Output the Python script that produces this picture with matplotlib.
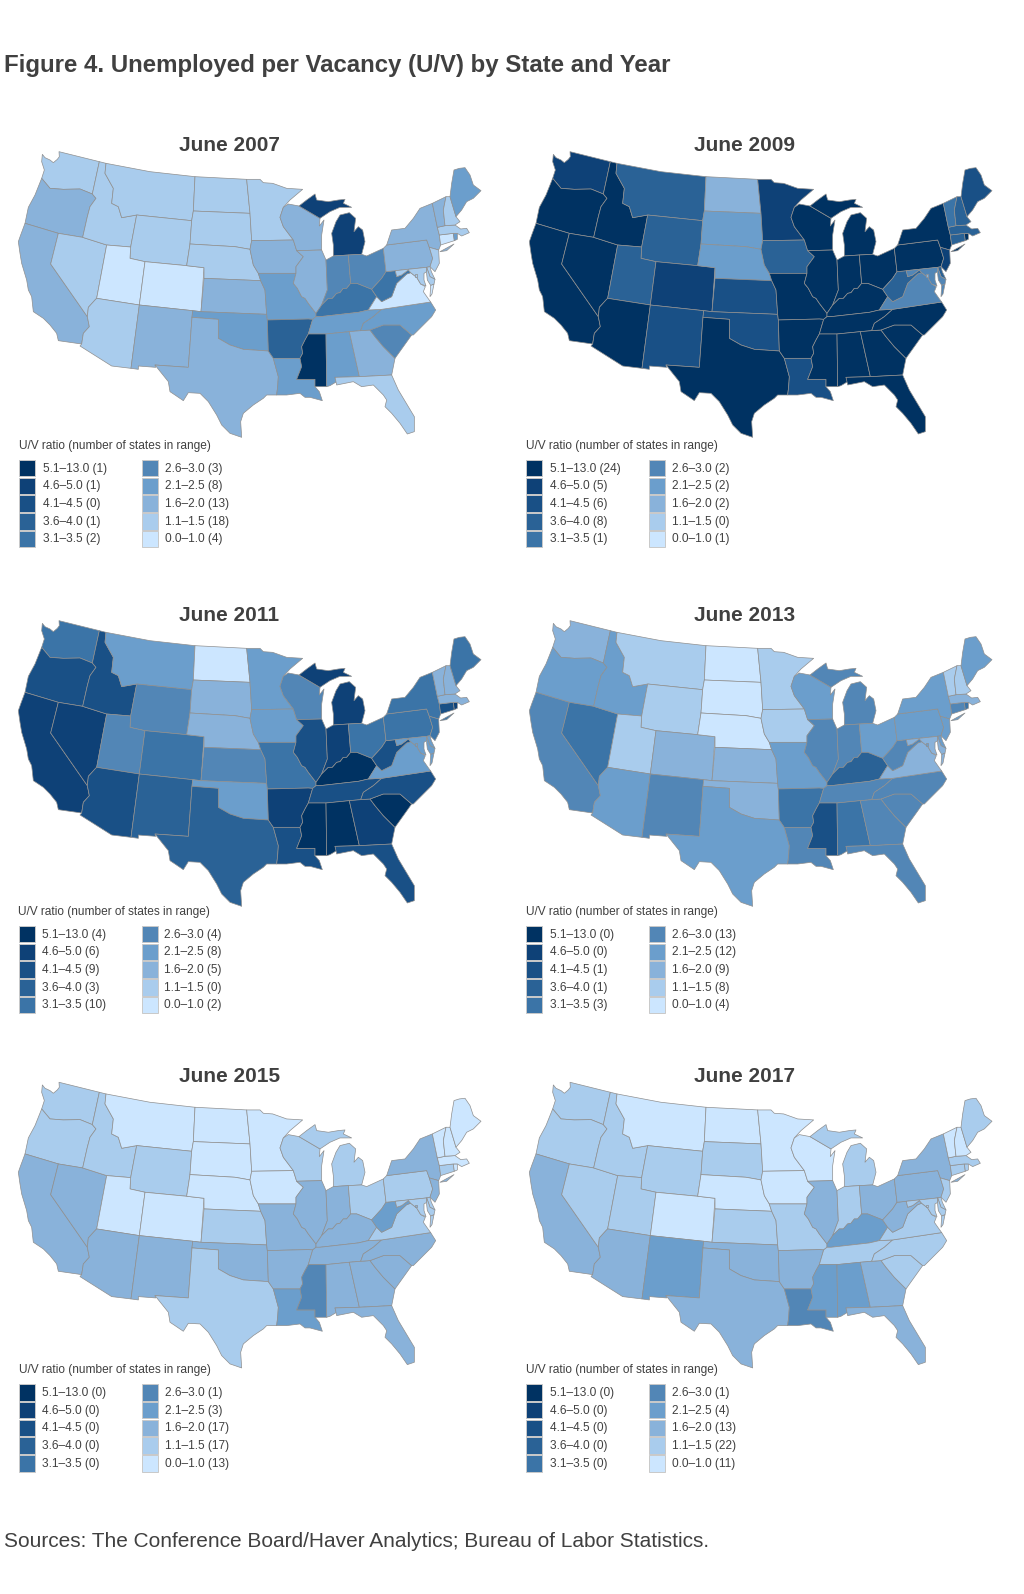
import matplotlib
matplotlib.use("Agg")
import matplotlib.pyplot as plt
from matplotlib.collections import PolyCollection
from matplotlib.colors import ListedColormap, BoundaryNorm
from matplotlib.patches import Rectangle

plt.rcParams['font.family'] = ['Liberation Sans', 'DejaVu Sans']

# ---------- data ----------
range_labels = ["0.0–1.0", "1.1–1.5", "1.6–2.0", "2.1–2.5", "2.6–3.0",
                "3.1–3.5", "3.6–4.0", "4.1–4.5", "4.6–5.0", "5.1–13.0"]
bin_edges = [0, 1.05, 1.55, 2.05, 2.55, 3.05, 3.55, 4.05, 4.55, 5.05, 13.0]
bin_colors = ["#cce6ff", "#a9cced", "#89b2da", "#6b9ecc", "#5286b6",
              "#3b74a7", "#2a6296", "#195086", "#0e4177", "#003262"]

states = ["WA","OR","CA","NV","ID","MT","WY","UT","CO","AZ","NM","ND","SD","NE","KS","OK","TX",
          "MN","IA","MO","AR","LA","WI","IL","MI","IN","OH","KY","TN","MS","AL","GA","FL","SC",
          "NC","VA","WV","PA","NY","NJ","DE","MD","DC","CT","RI","MA","VT","NH","ME"]

# U/V ratio per state, read as the middle of the colour range seen on the map
uv_2007 = [1.3,1.8,1.8,1.3,1.3,1.3,1.3,0.8,0.8,1.3,1.8,1.3,1.3,1.3,1.8,2.3,1.8,
           1.3,1.8,2.3,3.8,2.3,1.8,1.8,4.8,2.8,2.8,3.3,2.3,5.5,2.3,1.8,1.3,2.8,
           2.3,0.8,3.3,1.8,1.8,1.3,1.3,1.3,1.3,0.8,2.3,1.3,1.8,1.3,2.3]
uv_2009 = [4.8,5.5,5.5,5.5,5.5,3.8,3.8,3.8,4.8,5.5,4.3,1.8,2.3,2.3,4.3,4.3,5.5,
           4.8,3.8,5.5,5.5,4.3,5.5,5.5,5.5,5.5,5.5,5.5,5.5,5.5,5.5,5.5,5.5,5.5,
           5.5,2.8,3.8,5.5,5.5,4.8,3.8,2.8,1.8,3.8,5.5,3.8,3.3,3.8,4.3]
uv_2011 = [3.3,4.3,4.8,4.8,4.3,2.3,2.8,2.8,3.3,4.3,3.8,0.8,1.8,1.8,2.8,2.3,3.8,
           2.3,2.3,3.3,4.8,4.3,2.8,4.3,4.8,4.8,3.3,5.5,4.3,5.5,5.5,4.8,4.3,5.5,
           4.3,2.3,4.3,3.3,3.3,3.3,2.3,2.3,2.3,4.3,4.8,1.8,1.8,1.8,3.3]
uv_2013 = [1.8,2.3,2.8,3.3,2.3,1.3,1.3,1.3,1.8,2.3,2.8,0.8,0.8,0.8,1.8,1.8,2.3,
           1.3,1.3,2.3,3.3,2.8,2.3,2.8,2.8,2.8,2.3,3.8,2.8,4.3,3.3,2.8,2.8,2.8,
           2.8,1.8,2.8,2.3,2.3,2.3,2.3,1.8,2.3,2.8,3.3,1.8,1.3,1.3,2.3]
uv_2015 = [1.3,1.3,1.8,1.8,1.3,0.8,1.3,0.8,0.8,1.8,1.8,0.8,0.8,0.8,1.3,1.8,1.3,
           0.8,0.8,1.8,1.8,2.3,1.3,1.8,1.3,1.8,1.3,1.8,1.8,2.8,1.8,1.8,1.8,1.8,
           1.8,1.3,2.3,1.3,1.8,1.8,1.3,1.3,1.8,1.3,0.8,0.8,0.8,0.8,0.8]
uv_2017 = [1.3,1.3,1.8,1.3,1.3,0.8,1.3,1.3,0.8,1.8,2.3,0.8,1.3,0.8,1.3,1.8,1.8,
           0.8,0.8,1.3,1.8,2.8,0.8,1.8,1.3,1.3,1.8,2.3,1.3,2.3,2.3,1.8,1.8,1.3,
           1.3,1.3,1.8,1.8,1.8,1.3,1.3,1.3,1.3,1.3,1.3,1.3,0.8,0.8,1.3]

# number of states in each range, low range first, from the legends
n_2007 = [4, 18, 13, 8, 3, 2, 1, 0, 1, 1]
n_2009 = [1, 0, 2, 2, 2, 1, 8, 6, 5, 24]
n_2011 = [2, 0, 5, 8, 4, 10, 3, 9, 6, 4]
n_2013 = [4, 8, 9, 12, 13, 3, 1, 1, 0, 0]
n_2015 = [13, 17, 17, 3, 1, 0, 0, 0, 0, 0]
n_2017 = [11, 22, 13, 4, 1, 0, 0, 0, 0, 0]

titles = ["June 2007", "June 2009", "June 2011", "June 2013", "June 2015", "June 2017"]
series = [uv_2007, uv_2009, uv_2011, uv_2013, uv_2015, uv_2017]
counts = [n_2007, n_2009, n_2011, n_2013, n_2015, n_2017]

# ---------- base map: simplified state outlines, no boundary file is available ----------
outlines = {
"WA": [[(127,103),(135,113),(150,120),(160,128),(172,118),(178,110),(177,95),(298,125),(277,222),(240,207),(190,208),(150,205),(125,175),(133,150),(125,125)]],
"OR": [[(125,175),(150,205),(190,208),(240,207),(277,222),(288,235),(270,260),(262,290),(248,352),(175,340),(75,310),(85,262),(105,225)]],
"CA": [[(75,310),(175,340),(152,432),(262,590),(268,620),(250,640),(245,672),(175,662),(170,640),(150,615),(130,595),(100,575),(95,530),(85,510),(80,480),(65,430),(60,400),(55,365),(62,345)]],
"NV": [[(175,340),(248,352),(320,375),(290,535),(285,540),(265,562),(262,590),(152,432)]],
"ID": [[(298,125),(318,130),(315,160),(340,205),(335,250),(355,260),(365,293),(410,285),(392,381),(320,375),(248,352),(262,290),(270,260),(288,235),(277,222)]],
"MT": [[(318,130),(450,155),(585,170),(580,273),(575,302),(410,285),(365,293),(355,260),(335,250),(340,205),(315,160)]],
"WY": [[(410,285),(575,302),(570,372),(560,437),(435,425),(390,415),(392,381)]],
"UT": [[(320,375),(392,381),(390,415),(435,425),(418,555),(290,535)]],
"CO": [[(435,425),(560,437),(612,443),(603,575),(578,572),(418,555)]],
"AZ": [[(290,535),(418,555),(393,745),(335,738),(240,678),(245,672),(250,640),(268,620),(262,590),(265,562),(285,540)]],
"NM": [[(418,555),(578,572),(576,592),(565,742),(465,735),(467,742),(415,738),(415,748),(393,745)]],
"ND": [[(585,170),(740,178),(750,280),(580,273)]],
"SD": [[(580,273),(750,280),(755,362),(750,388),(705,380),(570,372),(575,302)]],
"NE": [[(570,372),(705,380),(750,388),(760,435),(775,460),(782,482),(612,475),(612,443),(560,437)]],
"KS": [[(612,475),(782,482),(795,510),(800,583),(603,575)]],
"OK": [[(578,572),(603,575),(800,583),(802,600),(805,693),(730,688),(690,675),(655,655),(655,598),(576,592)]],
"TX": [[(576,592),(655,598),(655,655),(690,675),(730,688),(805,693),(820,715),(835,770),(833,800),(830,825),(800,825),(790,835),(760,855),(730,880),(722,905),(725,952),(690,940),(665,915),(650,885),(625,845),(600,820),(565,818),(550,842),(525,825),(510,815),(505,785),(485,760),(465,735),(565,742)]],
"MN": [[(740,178),(780,178),(790,188),(818,190),(860,205),(908,208),(870,240),(850,262),(840,292),(850,320),(880,360),(755,362),(750,280)]],
"IA": [[(755,362),(880,360),(890,392),(910,410),(888,440),(888,460),(775,460),(760,435),(750,388)]],
"MO": [[(775,460),(888,460),(880,490),(892,505),(905,530),(915,535),(925,550),(948,580),(948,590),(938,598),(925,597),(802,600),(800,583),(795,510),(782,482)]],
"AR": [[(802,600),(925,597),(938,598),(925,642),(915,660),(905,680),(908,700),(900,715),(820,715),(805,693)]],
"LA": [[(820,715),(900,715),(905,740),(890,778),(945,778),(945,800),(958,815),(967,842),(930,832),(915,832),(900,820),(860,825),(830,825),(833,800),(835,770)]],
"WI": [[(850,262),(865,252),(897,258),(960,295),(958,318),(972,300),(965,345),(965,390),(890,392),(880,360),(850,320),(840,292)]],
"IL": [[(890,392),(965,390),(978,420),(982,510),(965,555),(948,580),(925,550),(915,535),(905,530),(892,505),(880,490),(888,460),(888,440),(910,410)]],
"MI": [[(897,258),(920,240),(945,222),(950,240),(985,245),(1015,240),(1035,238),(1030,250),(1055,262),(1020,262),(990,275),(975,285),(960,295)],
       [(1000,408),(1045,405),(1085,403),(1095,365),(1088,330),(1075,320),(1062,335),(1067,295),(1048,278),(1020,285),(1008,305),(995,340),(1000,375)]],
"IN": [[(978,420),(1000,408),(1045,405),(1052,490),(1040,505),(1030,505),(1020,518),(1010,520),(997,535),(985,535),(975,545),(965,555),(982,510)]],
"OH": [[(1045,405),(1085,403),(1100,408),(1150,385),(1158,455),(1145,475),(1115,508),(1070,490),(1052,490)]],
"KY": [[(948,590),(948,580),(965,555),(975,545),(985,535),(997,535),(1010,520),(1020,518),(1030,505),(1040,505),(1052,490),(1070,490),(1115,508),(1130,530),(1105,570),(1075,577),(960,590)]],
"TN": [[(948,590),(960,590),(1075,577),(1105,570),(1145,568),(1120,590),(1090,610),(1082,632),(1048,635),(978,642),(925,642),(938,598)]],
"MS": [[(925,642),(978,642),(980,800),(945,800),(945,778),(890,778),(905,740),(900,715),(908,700),(905,680),(915,660)]],
"AL": [[(978,642),(1048,635),(1078,770),(1005,772),(1010,785),(990,797),(980,800)]],
"GA": [[(1048,635),(1082,632),(1110,630),(1125,650),(1150,680),(1185,715),(1175,765),(1078,770)]],
"FL": [[(1005,772),(1078,770),(1175,765),(1195,810),(1225,860),(1243,890),(1243,935),(1222,942),(1200,910),(1175,880),(1155,860),(1160,840),(1150,825),(1120,795),(1085,800),(1060,785),(1010,795)]],
"SC": [[(1110,630),(1150,615),(1200,615),(1235,645),(1185,715),(1150,680),(1125,650)]],
"NC": [[(1145,568),(1292,546),(1307,570),(1295,590),(1275,610),(1240,645),(1235,645),(1200,615),(1150,615),(1110,630),(1082,632),(1090,610),(1120,590)]],
"VA": [[(1105,570),(1130,530),(1145,545),(1175,530),(1190,490),(1220,462),(1232,458),(1250,472),(1262,492),(1276,500),(1270,515),(1284,535),(1292,546),(1145,568)],
       [(1302,492),(1296,522),(1290,530),(1292,496)]],
"WV": [[(1115,508),(1145,475),(1158,455),(1186,452),(1190,470),(1205,465),(1225,450),(1232,458),(1220,462),(1190,490),(1175,530),(1145,545),(1130,530)]],
"PA": [[(1150,385),(1160,375),(1280,360),(1288,382),(1298,415),(1290,440),(1280,442),(1186,452),(1158,455)]],
"NY": [[(1160,375),(1175,330),(1215,325),(1240,295),(1260,265),(1297,250),(1312,322),(1318,345),(1322,375),(1316,390),(1288,382),(1280,360)],
       [(1320,395),(1362,372),(1340,392)]],
"NJ": [[(1288,382),(1316,390),(1318,430),(1305,455),(1290,440),(1298,415)]],
"DE": [[(1280,442),(1290,440),(1294,455),(1305,478),(1290,470)]],
"MD": [[(1186,452),(1280,442),(1279,456),(1272,460),(1272,480),(1278,498),(1262,492),(1250,472),(1232,458),(1225,450),(1205,465),(1190,470)],
       [(1280,442),(1290,470),(1305,478),(1302,492),(1292,496),(1282,480),(1280,462)]],
"DC": [[(1246,463),(1252,463),(1252,470),(1246,470)]],
"CT": [[(1318,345),(1360,340),(1363,362),(1322,375)]],
"RI": [[(1360,340),(1372,340),(1372,358),(1363,362)]],
"MA": [[(1312,322),(1335,317),(1365,315),(1382,327),(1400,325),(1408,338),(1385,348),(1372,340),(1360,340),(1318,345)]],
"VT": [[(1297,250),(1338,230),(1330,270),(1335,317),(1312,322)]],
"NH": [[(1338,230),(1350,230),(1368,290),(1380,305),(1365,315),(1335,317),(1330,270)]],
"ME": [[(1362,150),(1378,145),(1395,143),(1410,165),(1420,195),(1443,212),(1420,235),(1400,245),(1385,270),(1368,290),(1350,230),(1355,190)]],
}

offsets = [(0, 0), (511, 0), (0, 469), (511, 469), (0, 930.6), (511, 930.6)]
title_xy = [(229, 145), (745, 145), (229, 615), (745, 615), (229.5, 1077), (745, 1077)]
legend_xy = [(19, 460), (526, 460), (18.5, 926), (526, 926), (18.6, 1384.3), (526, 1384.3)]

W, H = 1024, 1594
fig = plt.figure(figsize=(W / 100, H / 100), dpi=100, facecolor="white")

cmap = ListedColormap(bin_colors)
norm = BoundaryNorm(bin_edges, cmap.N)

verts, owners = [], []
for i, st in enumerate(states):
    for ring in outlines[st]:
        verts.append(ring)
        owners.append(i)

for (dx, dy), vals in zip(offsets, series):
    ax = fig.add_axes([dx / W, 1 - (dy + 120 + 326) / H, 490 / W, 326 / H])
    ax.set_xlim(0, 1470)
    ax.set_ylim(978, 0)
    ax.axis("off")
    ax.patch.set_alpha(0)
    pc = PolyCollection(verts, array=[vals[k] for k in owners], cmap=cmap, norm=norm,
                        edgecolors="#8f8f8f", linewidths=0.5, joinstyle="round")
    ax.add_collection(pc)

# text and legend keys, placed in image pixels
over = fig.add_axes([0, 0, 1, 1])
over.set_xlim(0, W)
over.set_ylim(H, 0)
over.axis("off")
over.patch.set_alpha(0)

TXT = "#404040"
over.text(4.5, 72, "Figure 4. Unemployed per Vacancy (U/V) by State and Year",
          fontsize=17.3, fontweight="bold", color=TXT, va="baseline", ha="left")
over.text(4.5, 1547, "Sources: The Conference Board/Haver Analytics; Bureau of Labor Statistics.",
          fontsize=15.05, color=TXT, va="baseline", ha="left")

STEP = 17.7
for (tx, ty), title, (lx, ly), cnt in zip(title_xy, titles, legend_xy, counts):
    over.text(tx, ty, title, fontsize=15, fontweight="bold", color=TXT, ha="center", va="center")
    over.text(lx, ly - 14.5, "U/V ratio (number of states in range)", fontsize=8.6,
              color=TXT, ha="left", va="center")
    for r in range(5):
        for col, idx, sx, txt_x in ((0, 9 - r, lx, lx + 23.8), (1, 4 - r, lx + 123, lx + 146)):
            y = ly + r * STEP
            over.add_patch(Rectangle((sx, y), 16, 16.4, facecolor=bin_colors[idx],
                                     edgecolor="#c9c9c9", linewidth=0.7))
            over.text(txt_x, y + 8.6, f"{range_labels[idx]} ({cnt[idx]})", fontsize=8.6,
                      color=TXT, ha="left", va="center")

fig.savefig("out.png", dpi=100, facecolor="white")
